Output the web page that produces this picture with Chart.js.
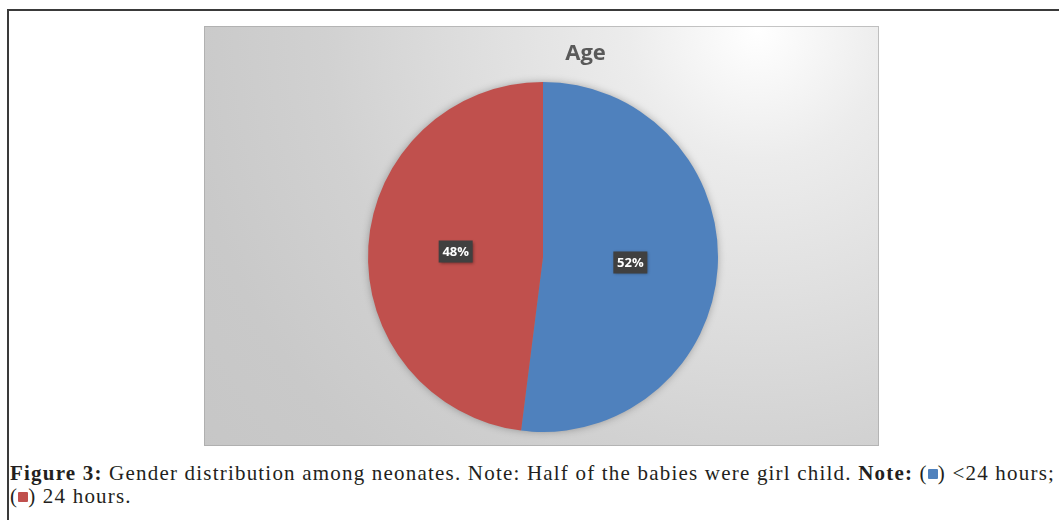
<!DOCTYPE html>
<html>
<head>
<meta charset="utf-8">
<script src="https://cdn.jsdelivr.net/npm/chart.js@4.4.1/dist/chart.umd.min.js"></script>
<style>
    body { margin: 0; background: #fff; width: 1059px; height: 520px; overflow: hidden; position: relative; }
    #frame { position: absolute; left: 7px; top: 9px; width: 1100px; height: 600px; border: 2px solid #3a3a3a; box-sizing: border-box; }
    #panel { position: absolute; left: 204px; top: 26px; width: 675px; height: 420px; }
    #caption { position: absolute; left: 10px; top: 462px; font-family: "Liberation Serif", "DejaVu Serif", serif; font-size: 21px; letter-spacing: 1.2px; line-height: 23px; color: #231f20; white-space: nowrap; }
    #caption b { font-weight: bold; }
    .key { display: inline-block; width: 10px; height: 10px; vertical-align: 1px; border-radius: 1px; }
</style>
</head>
<body>
<div id="frame"></div>
<div id="panel"><canvas id="ageChart" width="675" height="420"></canvas></div>
<div id="caption">
    <b>Figure 3:</b> Gender distribution among neonates. Note: Half of the babies were girl child. <b>Note:</b> (<span class="key" style="background:#4f81bd"></span>) &lt;24 hours;<br>
    (<span class="key" style="background:#c0504d"></span>) 24 hours.
</div>
<script>
const chartTitle = 'Age';
const categories = ['<24 hours', '24 hours'];
const percentValues = [52, 48];
const sliceColors = ['#4f81bd', '#c0504d'];

const panelPlugin = {
    id: 'panelBackground',
    beforeDraw(chart) {
        const ctx = chart.ctx;
        const w = chart.width, h = chart.height;
        ctx.save();
        const grad = ctx.createRadialGradient(w * 0.82, 4, 0, w * 0.82, 4, 720);
        grad.addColorStop(0, '#ffffff');
        grad.addColorStop(0.18, '#ececec');
        grad.addColorStop(0.6, '#d1d1d1');
        grad.addColorStop(0.8, '#c9c9c9');
        grad.addColorStop(1, '#c6c6c6');
        ctx.fillStyle = grad;
        ctx.fillRect(0, 0, w, h);
        ctx.strokeStyle = 'rgba(160,160,160,0.6)';
        ctx.lineWidth = 1;
        ctx.strokeRect(0.5, 0.5, w - 1, h - 1);

        ctx.fillStyle = '#595959';
        ctx.font = 'bold 22px "Open Sans", sans-serif';
        ctx.textAlign = 'center';
        ctx.textBaseline = 'alphabetic';
        ctx.fillText(chartTitle, w / 2 + 44, 34);
        ctx.restore();
    },
    beforeDatasetsDraw(chart) {
        const arc = chart.getDatasetMeta(0).data[0];
        if (!arc) return;
        const ctx = chart.ctx;
        ctx.save();
        ctx.shadowColor = 'rgba(0,0,0,0.35)';
        ctx.shadowBlur = 9;
        ctx.fillStyle = '#888';
        ctx.beginPath();
        ctx.arc(arc.x, arc.y, arc.outerRadius - 1, 0, Math.PI * 2);
        ctx.fill();
        ctx.restore();
    },
    afterDatasetsDraw(chart) {
        const ctx = chart.ctx;
        const meta = chart.getDatasetMeta(0);
        ctx.save();
        ctx.font = 'bold 13px "Open Sans", sans-serif';
        ctx.textAlign = 'center';
        ctx.textBaseline = 'middle';
        meta.data.forEach((arc, i) => {
            const pos = arc.tooltipPosition();
            const text = percentValues[i] + '%';
            const bw = 34, bh = 22;
            ctx.shadowColor = 'rgba(0,0,0,0.4)';
            ctx.shadowBlur = 3;
            ctx.shadowOffsetX = 1;
            ctx.shadowOffsetY = 1;
            ctx.fillStyle = '#404040';
            ctx.fillRect(pos.x - bw / 2, pos.y - bh / 2, bw, bh);
            ctx.shadowColor = 'transparent';
            ctx.fillStyle = '#ffffff';
            ctx.fillText(text, pos.x, pos.y + 1);
        });
        ctx.restore();
    }
};

new Chart(document.getElementById('ageChart').getContext('2d'), {
    type: 'pie',
    data: {
        labels: categories,
        datasets: [{
            data: percentValues,
            backgroundColor: sliceColors,
            borderWidth: 0
        }]
    },
    options: {
        responsive: false,
        animation: false,
        layout: {
            padding: { top: 56, bottom: 14, left: 3, right: 0 }
        },
        plugins: {
            legend: { display: false },
            tooltip: { enabled: false },
            title: { display: false }
        }
    },
    plugins: [panelPlugin]
});
</script>
</body>
</html>
